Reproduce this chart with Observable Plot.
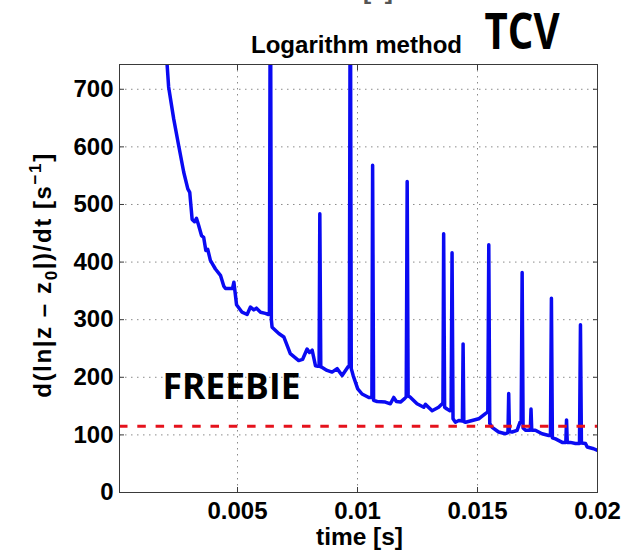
<!DOCTYPE html>
<html><head><meta charset="utf-8">
<script src="https://cdn.jsdelivr.net/npm/d3@7"></script>
<script src="https://cdn.jsdelivr.net/npm/@observablehq/plot@0.6"></script>
<style>body{margin:0;background:#fff}#chart{width:632px;height:555px}</style>
</head><body><div id="chart"></div>
<script>
// time [s]
const time = [
  0.00200,0.00207,0.00213,0.00234,0.00255,0.00276,0.00293,0.00301,0.00311,0.00321,
  0.00329,0.00338,0.00350,0.00359,0.00368,0.00376,0.00387,0.00408,0.00429,0.00443,
  0.00450,0.00479,0.00485,0.00496,0.00519,0.00540,0.00554,0.00568,0.00579,0.00596,
  0.00616,0.00629,0.00633,0.00637,0.00641,0.00644,0.00672,0.00693,0.00720,0.00755,
  0.00771,0.00790,0.00800,0.00811,0.00825,0.00835,0.00840,0.00843,0.00847,0.00853,
  0.00873,0.00894,0.00915,0.00936,0.00960,0.00966,0.00970,0.00974,0.00982,0.01001,
  0.01019,0.01047,0.01056,0.01060,0.01063,0.01067,0.01082,0.01116,0.01137,0.01151,
  0.01162,0.01179,0.01196,0.01203,0.01207,0.01211,0.01221,0.01248,0.01262,0.01276,
  0.01283,0.01311,0.01338,0.01353,0.01356,0.01359,0.01363,0.01373,0.01385,0.01390,
  0.01394,0.01398,0.01408,0.01422,0.01437,0.01440,0.01443,0.01450,0.01478,0.01505,
  0.01533,0.01543,0.01547,0.01551,0.01561,0.01588,0.01616,0.01627,0.01630,0.01633,
  0.01644,0.01665,0.01677,0.01682,0.01686,0.01690,0.01700,0.01720,0.01723,0.01726,
  0.01741,0.01769,0.01797,0.01804,0.01808,0.01812,0.01825,0.01853,0.01868,0.01871,
  0.01874,0.01887,0.01908,0.01925,0.01929,0.01933,0.01950,0.01957,0.01984,0.02000
];
// d(ln|z - z0|)/dt [1/s]
const rate = [
  781,741,704,649,602,556,527,521,474,470,
  476,464,446,443,420,422,403,388,377,358,
  354,354,365,326,313,309,322,317,320,313,
  311,309,312,1000,300,287,276,270,241,229,
  231,249,243,247,220,219,219,484,218,217,
  212,209,215,203,218,220,1000,215,203,180,
  171,165,165,166,568,160,158,157,154,165,
  158,157,163,166,540,168,165,154,151,148,
  153,142,148,154,156,449,148,145,142,143,
  416,128,122,125,124,258,123,122,125,128,
  137,140,430,120,113,105,102,104,172,106,
  105,108,122,124,382,112,108,108,145,108,
  108,102,99,99,337,95,93,87,87,126,
  87,87,85,85,291,86,85,79,76,73
];
const threshold = [115];
const xTicks = [0.005, 0.01, 0.015, 0.02];
const xTickLabels = ["0.005", "0.01", "0.015", "0.02"];
const yTicks = [0, 100, 200, 300, 400, 500, 600, 700];
const xDomain = [0.0000833, 0.02];
const yDomain = [0, 743];
const titleText = ["Logarithm method"];
const tagText = ["TCV"];
const noteText = ["FREEBIE"];
const xLabelText = ["time [s]"];

const data = time.map((t, i) => ({t, v: rate[i]}));
const sans = "'Liberation Sans', Arial, Helvetica, sans-serif";
const deco = "'Open Sans', 'Noto Sans', sans-serif";
const axisColor = "#3a3a3a";

const chart = Plot.plot({
  width: 632, height: 555,
  marginLeft: 119, marginRight: 35, marginTop: 64, marginBottom: 63,
  style: {fontFamily: sans, fontWeight: "bold", fontSize: "24px", color: "#000", background: "#fff", overflow: "hidden"},
  x: {domain: xDomain},
  y: {domain: yDomain},
  marks: [
    Plot.gridX(xTicks.slice(0, 3), {stroke: "#8a8a8a", strokeOpacity: 1, strokeDasharray: "1.5,4.5"}),
    Plot.gridY(yTicks.slice(1), {stroke: "#8a8a8a", strokeOpacity: 1, strokeDasharray: "1.5,4.5"}),
    Plot.line(data, {x: "t", y: "v", stroke: "#0a0af2", strokeWidth: 3.5, clip: true}),
    Plot.ruleY(threshold, {stroke: "#e5121c", strokeWidth: 3, strokeDasharray: "8.5,9.8"}),
    Plot.frame({stroke: axisColor}),
    Plot.axisX(xTicks, {anchor: "bottom", tickSize: -5, tickPadding: 14, stroke: axisColor, fill: "#000",
      tickFormat: d => xTickLabels[xTicks.indexOf(d)], label: null}),
    Plot.axisX(xTicks, {anchor: "top", tickSize: -5, stroke: axisColor, tickFormat: () => "", label: null}),
    Plot.axisY(yTicks, {anchor: "left", tickSize: -5, tickPadding: 11, stroke: axisColor, fill: "#000", label: null}),
    Plot.axisY(yTicks, {anchor: "right", tickSize: -5, stroke: axisColor, tickFormat: () => "", label: null}),
    Plot.text(titleText, {frameAnchor: "top", dx: -2, dy: -12, lineAnchor: "bottom", fontSize: 24, fontWeight: "bold"}),
    Plot.text(xLabelText, {frameAnchor: "bottom", dx: 1, dy: 52, lineAnchor: "bottom", fontSize: 23, fontWeight: "bold"}),
    Plot.text(xLabelText, {frameAnchor: "top", dx: -9, dy: -66, lineAnchor: "bottom", fontSize: 24, fontWeight: "bold", fill: "#555"}),
    Plot.text(tagText, {frameAnchor: "top-left", dx: 365, dy: -16, textAnchor: "start", lineAnchor: "bottom",
      fontFamily: deco, fontSize: 50, fontWeight: "bold"}),
    Plot.text(noteText, {frameAnchor: "top-left", dx: 43, dy: 334, textAnchor: "start", lineAnchor: "bottom",
      fontFamily: deco, fontSize: 35, fontWeight: "bold"})
  ]
});

const svg = d3.select(chart);
svg.selectAll("text").filter(function () { return this.textContent === "TCV"; })
  .attr("textLength", 75).attr("lengthAdjust", "spacingAndGlyphs");
svg.selectAll("text").filter(function () { return this.textContent === "FREEBIE"; })
  .attr("textLength", 138).attr("lengthAdjust", "spacingAndGlyphs");
svg.selectAll("text").filter(function () { return this.textContent === "Logarithm method"; })
  .attr("textLength", 211).attr("lengthAdjust", "spacingAndGlyphs");
svg.selectAll("text").filter(function () { return this.textContent === "time [s]" && this.getAttribute("fill") !== "#555"; })
  .attr("textLength", 87).attr("lengthAdjust", "spacingAndGlyphs");

// y-axis label with subscript and superscript
const yl = svg.append("text")
  .attr("transform", "translate(51,275) rotate(-90)")
  .attr("text-anchor", "middle")
  .attr("letter-spacing", 1.6)
  .attr("font-family", sans).attr("font-weight", "bold").attr("font-size", 24).attr("fill", "#000");
yl.append("tspan").text("d(ln|z \u2013 z");
yl.append("tspan").attr("font-size", 17).attr("dy", 6).text("0");
yl.append("tspan").attr("dy", -6).text("|)/dt [s");
yl.append("tspan").attr("font-size", 17).attr("dy", -10).text("\u22121");
yl.append("tspan").attr("dy", 10).text("]");

document.getElementById("chart").append(chart);
</script>
</body></html>
